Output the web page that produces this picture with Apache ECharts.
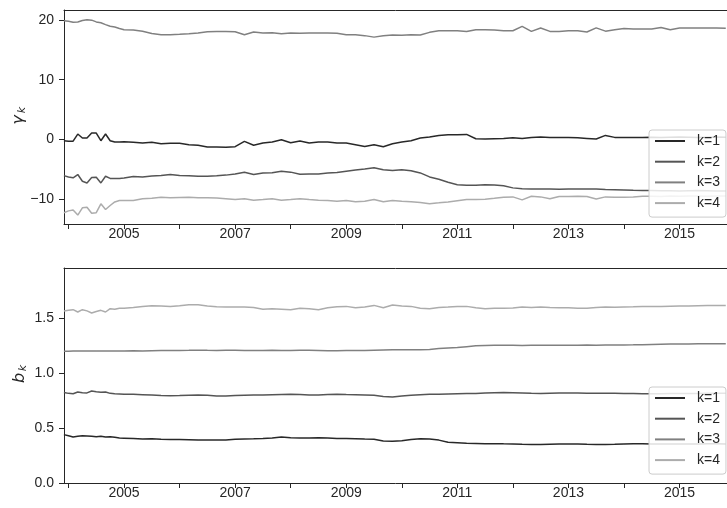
<!DOCTYPE html>
<html>
<head>
<meta charset="utf-8">
<script src="https://cdn.jsdelivr.net/npm/echarts@6/dist/echarts.min.js"></script>
<style>html,body{margin:0;padding:0;background:#fff}#c{width:727px;height:508px}</style>
</head>
<body>
<div id="c"></div>
<script>
// x positions in decimal years (monthly early, bimonthly afterwards)
const dates = [2003.917, 2004.000, 2004.083, 2004.167, 2004.250, 2004.333, 2004.417, 2004.500, 2004.583, 2004.667, 2004.750, 2004.833, 2004.917, 2005.000,
  2005.167, 2005.333, 2005.500, 2005.667, 2005.833,
  2006.000, 2006.167, 2006.333, 2006.500, 2006.667, 2006.833,
  2007.000, 2007.167, 2007.333, 2007.500, 2007.667, 2007.833,
  2008.000, 2008.167, 2008.333, 2008.500, 2008.667, 2008.833,
  2009.000, 2009.167, 2009.333, 2009.500, 2009.667, 2009.833,
  2010.000, 2010.167, 2010.333, 2010.500, 2010.667, 2010.833,
  2011.000, 2011.167, 2011.333, 2011.500, 2011.667, 2011.833,
  2012.000, 2012.167, 2012.333, 2012.500, 2012.667, 2012.833,
  2013.000, 2013.167, 2013.333, 2013.500, 2013.667, 2013.833,
  2014.000, 2014.167, 2014.333, 2014.500, 2014.667, 2014.833,
  2015.000, 2015.167, 2015.333, 2015.500, 2015.667, 2015.833];

const seriesNames = ['k=1', 'k=2', 'k=3', 'k=4'];

const gammaK1 = [-0.23, -0.3, -0.3, 0.89, 0.22, 0.22, 1.05, 1.05, -0.23, 0.89, -0.23, -0.45, -0.45, -0.42,
  -0.5, -0.62, -0.5, -0.73, -0.67,
  -0.67, -0.9, -1.0, -1.29, -1.29, -1.34,
  -1.23, -0.34, -1.0, -0.62, -0.45, -0.06,
  -0.56, -0.28, -0.62, -0.45, -0.45, -0.62,
  -0.62, -0.9, -1.18, -0.9, -1.23, -0.73,
  -0.45, -0.23, 0.22, 0.38, 0.66, 0.77,
  0.77, 0.83, 0.11, 0.05, 0.11, 0.16,
  0.27, 0.16, 0.33, 0.38, 0.33, 0.33,
  0.33, 0.27, 0.16, 0.05, 0.66, 0.33,
  0.33, 0.33, 0.33, 0.35, 0.3, 0.35,
  0.4, 0.35, 0.3, 0.35, 0.4, 0.35];
const gammaK2 = [-6.08, -6.3, -6.45, -5.9, -7.03, -7.31, -6.4, -6.36, -7.31, -6.19, -6.55, -6.58, -6.58, -6.5,
  -6.25, -6.3, -6.15, -6.08, -5.91,
  -6.05, -6.1, -6.19, -6.19, -6.1, -6.0,
  -5.8, -5.52, -5.9, -5.63, -5.6, -5.36,
  -5.5, -5.85, -5.8, -5.8, -5.65, -5.55,
  -5.35, -5.15, -4.96, -4.75, -5.1, -5.24,
  -5.1, -5.25, -5.63, -6.3, -6.7, -7.2,
  -7.6, -7.7, -7.7, -7.62, -7.65, -7.8,
  -8.14, -8.28, -8.31, -8.31, -8.33, -8.37,
  -8.33, -8.31, -8.31, -8.33, -8.4, -8.45,
  -8.5, -8.55, -8.59, -8.6, -8.62, -8.63,
  -8.65, -8.62, -8.6, -8.62, -8.65, -8.65];
const gammaK3 = [19.89, 19.8, 19.65, 19.7, 19.95, 20.05, 20.0, 19.7, 19.55, 19.25, 18.98, 18.85, 18.6, 18.39,
  18.33, 18.15, 17.75, 17.55, 17.55,
  17.62, 17.72, 17.83, 18.05, 18.11, 18.11,
  18.05, 17.55, 18.0, 17.83, 17.9, 17.72,
  17.85, 17.8, 17.83, 17.83, 17.83, 17.8,
  17.55, 17.55, 17.4, 17.15, 17.38, 17.5,
  17.45, 17.55, 17.5, 17.95, 18.22, 18.22,
  18.2, 18.08, 18.4, 18.39, 18.35, 18.22,
  18.22, 18.95, 18.11, 18.67, 18.11, 18.11,
  18.2, 18.22, 18.0, 18.7, 18.15, 18.39,
  18.6, 18.5, 18.5, 18.5, 18.78, 18.39,
  18.67, 18.67, 18.67, 18.67, 18.67, 18.65];
const gammaK4 = [-12.32, -12.0, -11.85, -12.71, -11.49, -11.38, -12.4, -12.3, -10.82, -11.77, -11.1, -10.5, -10.26, -10.26,
  -10.26, -9.95, -9.9, -9.7, -9.81,
  -9.75, -9.72, -9.81, -9.81, -9.85, -9.95,
  -10.1, -9.95, -10.2, -10.1, -9.95, -10.2,
  -10.1, -9.95, -10.1, -10.2, -10.26, -10.37,
  -10.26, -10.48, -10.37, -10.1, -10.48, -10.26,
  -10.4, -10.45, -10.6, -10.8, -10.65, -10.5,
  -10.3, -10.1, -10.1, -10.05, -9.9, -9.7,
  -9.65, -10.15, -9.55, -9.65, -9.95, -9.6,
  -9.6, -9.55, -9.6, -10.0, -9.65, -9.7,
  -9.7, -9.65, -9.55, -9.55, -9.6, -9.5,
  -9.55, -9.5, -9.5, -9.55, -9.5, -9.5];

const bK1 = [0.44, 0.43, 0.418, 0.425, 0.43, 0.428, 0.425, 0.42, 0.425, 0.418, 0.42, 0.415, 0.41, 0.408,
  0.404, 0.4, 0.402, 0.398, 0.396,
  0.395, 0.394, 0.392, 0.39, 0.39, 0.392,
  0.398, 0.4, 0.402, 0.405, 0.41, 0.418,
  0.412, 0.41, 0.41, 0.412, 0.41, 0.405,
  0.405, 0.403, 0.4, 0.398, 0.382, 0.38,
  0.385, 0.395, 0.402, 0.4, 0.39, 0.37,
  0.366, 0.362, 0.36, 0.358, 0.358, 0.356,
  0.355, 0.352, 0.35, 0.35, 0.352, 0.354,
  0.355, 0.355, 0.352, 0.35, 0.35, 0.352,
  0.355, 0.356, 0.356, 0.355, 0.354, 0.354,
  0.354, 0.355, 0.355, 0.356, 0.356, 0.355];
const bK2 = [0.822, 0.815, 0.812, 0.828, 0.82, 0.819, 0.837, 0.83, 0.826, 0.828, 0.815, 0.812, 0.81, 0.808,
  0.806, 0.803, 0.8, 0.796, 0.794,
  0.795, 0.798, 0.8, 0.797, 0.792, 0.791,
  0.795, 0.798, 0.8, 0.8, 0.802, 0.804,
  0.806, 0.804, 0.8, 0.8, 0.805, 0.808,
  0.804, 0.802, 0.8, 0.797, 0.787, 0.782,
  0.792, 0.798, 0.803, 0.806, 0.806, 0.81,
  0.812, 0.814, 0.814, 0.818, 0.821, 0.822,
  0.82, 0.818, 0.815, 0.814, 0.816, 0.818,
  0.819, 0.818, 0.816, 0.817, 0.815, 0.815,
  0.814, 0.813, 0.812, 0.812, 0.812, 0.813,
  0.813, 0.814, 0.814, 0.815, 0.815, 0.815];
const bK3 = [1.197, 1.198, 1.2, 1.2, 1.2, 1.2, 1.201, 1.2, 1.2, 1.2, 1.2, 1.201, 1.2, 1.2,
  1.202, 1.2, 1.202, 1.204, 1.205,
  1.205, 1.206, 1.208, 1.206, 1.205, 1.206,
  1.207, 1.205, 1.204, 1.205, 1.206, 1.205,
  1.205, 1.206, 1.206, 1.205, 1.203, 1.203,
  1.204, 1.205, 1.205, 1.208, 1.21, 1.212,
  1.211, 1.212, 1.212, 1.215, 1.222, 1.228,
  1.233, 1.24, 1.247, 1.25, 1.252, 1.252,
  1.252, 1.251, 1.252, 1.253, 1.252, 1.252,
  1.253, 1.253, 1.254, 1.253, 1.254, 1.255,
  1.255, 1.256, 1.258, 1.26, 1.262, 1.263,
  1.264, 1.265, 1.266, 1.266, 1.267, 1.267];
const bK4 = [1.564, 1.57, 1.576, 1.555, 1.576, 1.565, 1.546, 1.56, 1.57, 1.555, 1.585, 1.58, 1.588, 1.59,
  1.596, 1.605, 1.612, 1.61, 1.606,
  1.612, 1.62, 1.62, 1.61, 1.603, 1.6,
  1.6, 1.6, 1.595, 1.58, 1.585, 1.58,
  1.575, 1.588, 1.585, 1.575, 1.594, 1.603,
  1.606, 1.594, 1.6, 1.615, 1.594, 1.618,
  1.61, 1.606, 1.59, 1.585, 1.596, 1.6,
  1.606, 1.606, 1.594, 1.585, 1.588, 1.59,
  1.592, 1.6, 1.596, 1.6, 1.596, 1.594,
  1.594, 1.59, 1.588, 1.596, 1.6, 1.598,
  1.6, 1.602, 1.605, 1.606, 1.606, 1.608,
  1.609, 1.61, 1.612, 1.613, 1.614, 1.615];

const xTickValues = [2004, 2005, 2006, 2007, 2008, 2009, 2010, 2011, 2012, 2013, 2014, 2015];
const xLabelValues = [2005, 2007, 2009, 2011, 2013, 2015];
const gammaTicks = [-10, 0, 10, 20];
const bTicks = [0, 0.5, 1.0, 1.5];

const colors = ['#282828', '#555555', '#808080', '#acacac'];
const INK = '#262626';
const FONT = 'Liberation Sans, Arial, sans-serif';
const FS = 14;
const xMin = 2003.919, xMax = 2015.855;

function pairs(vals) { return dates.map((d, i) => [d, vals[i]]); }

function xAxes(gi) {
  return [{
    gridIndex: gi, type: 'value', min: xMin, max: xMax,
    axisLine: { onZero: false, lineStyle: { color: INK, width: 1 } },
    axisTick: { customValues: xTickValues, length: 5, lineStyle: { color: INK, width: 1 } },
    axisLabel: { customValues: xLabelValues, margin: 3, color: INK, fontSize: FS, fontFamily: FONT, formatter: v => String(v) },
    splitLine: { show: false }
  }, {
    gridIndex: gi, type: 'value', position: 'top', min: xMin, max: xMax,
    axisLine: { onZero: false, lineStyle: { color: INK, width: 1 } },
    axisTick: { show: false }, axisLabel: { show: false }, splitLine: { show: false }
  }];
}
function fmtY(v, dec) {
  const s = dec ? Math.abs(v).toFixed(1) : String(Math.abs(v));
  return v < 0 ? '\u2212' + s : s;
}
function yAxis(gi, min, max, ticks, dec) {
  return {
    gridIndex: gi, type: 'value', min: min, max: max,
    axisLine: { show: true, onZero: false, lineStyle: { color: INK, width: 1 } },
    axisTick: { show: true, customValues: ticks, length: 5, lineStyle: { color: INK, width: 1 } },
    axisLabel: { customValues: ticks, margin: 10, color: INK, fontSize: FS, fontFamily: FONT, formatter: v => fmtY(v, dec) },
    splitLine: { show: false }
  };
}
function legend(top) {
  return {
    orient: 'vertical', left: 649, top: top,
    padding: [3, 6, 6, 6], itemWidth: 30, itemHeight: 2, itemGap: 4.7, icon: 'rect',
    backgroundColor: 'rgba(255,255,255,0.85)', borderColor: '#cccccc', borderWidth: 1, borderRadius: 3,
    textStyle: { color: INK, fontSize: FS, fontFamily: FONT, lineHeight: 16, padding: [0, 0, 0, 7] },
    data: seriesNames, selectedMode: false, z: 10
  };
}
function yName(x, y, main) {
  return {
    type: 'group', x: x, y: y, rotation: Math.PI / 2,
    children: [
      { type: 'text', x: -3, y: 0, style: { text: main, font: 'italic 16px DejaVu Sans', fill: INK, align: 'center', verticalAlign: 'middle' } },
      { type: 'text', x: 7, y: 3, style: { text: 'k', font: 'italic 11px DejaVu Sans', fill: INK, align: 'center', verticalAlign: 'middle' } }
    ]
  };
}

const gammaSets = [gammaK1, gammaK2, gammaK3, gammaK4];
const bSets = [bK1, bK2, bK3, bK4];
const series = [];
gammaSets.forEach((vals, i) => series.push({
  name: seriesNames[i], type: 'line', xAxisIndex: 0, yAxisIndex: 0, data: pairs(vals),
  symbol: 'none', lineStyle: { color: colors[i], width: 1.5 }, itemStyle: { color: colors[i] }, z: 2
}));
bSets.forEach((vals, i) => series.push({
  name: seriesNames[i], type: 'line', xAxisIndex: 2, yAxisIndex: 1, data: pairs(vals),
  symbol: 'none', lineStyle: { color: colors[i], width: 1.5 }, itemStyle: { color: colors[i] }, z: 2
}));

const chart = echarts.init(document.getElementById('c'), null, { renderer: 'canvas' });
chart.setOption({
  animation: false,
  backgroundColor: '#ffffff',
  grid: [
    { left: 64, right: -3, top: 10, height: 214 },
    { left: 64, right: -3, top: 268, height: 215 }
  ],
  xAxis: xAxes(0).concat(xAxes(1)),
  yAxis: [yAxis(0, -14.2, 21.7, gammaTicks, false), yAxis(1, 0, 1.955, bTicks, true)],
  legend: [legend(130), legend(387)],
  graphic: [yName(19, 117, '\u03b3'), yName(20, 375, 'b')],
  series: series
});
</script>
</body>
</html>
